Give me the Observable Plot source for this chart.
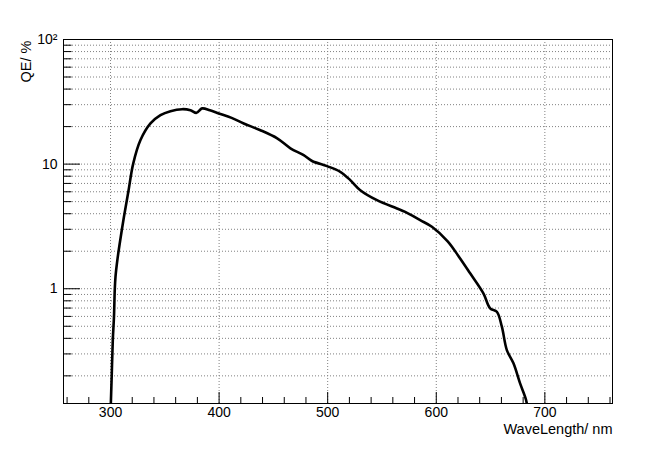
<!DOCTYPE html>
<html>
<head>
<meta charset="utf-8">
<script src="https://cdn.jsdelivr.net/npm/d3@7"></script>
<script src="https://cdn.jsdelivr.net/npm/@observablehq/plot@0.6"></script>
<style>
  html, body { margin: 0; padding: 0; background: #fff; }
  #chart { width: 655px; height: 457px; }
</style>
</head>
<body>
<div id="chart"></div>
<script>
// Wavelength (nm) and quantum efficiency (%)
const wavelength = [300.0, 301.1, 302.1, 303.2, 303.9, 304.6, 306.5, 309.4, 312.3, 316.4, 320.9, 327.6, 336.8, 346.0, 355.2, 366.0, 373.6, 379.2, 384.4, 391.5, 399.7, 411.5, 422.7, 437.5, 453.5, 465.7, 477.9, 485.6, 499.4, 511.6, 520.8, 530.0, 545.4, 563.8, 571.4, 585.2, 596.0, 610.5, 621.0, 631.2, 643.4, 649.6, 655.8, 660.4, 665.0, 671.1, 677.2, 682.7, 684.5];
const qe = [0.1, 0.2, 0.388, 0.6, 0.977, 1.25, 1.75, 2.6, 3.75, 6.0, 10.1, 15.6, 21.2, 24.7, 26.6, 27.6, 27.1, 25.8, 28.0, 27.0, 25.5, 23.5, 21.2, 18.8, 16.1, 13.4, 11.8, 10.6, 9.64, 8.67, 7.44, 6.18, 5.14, 4.41, 4.14, 3.55, 3.14, 2.40, 1.8, 1.33, 0.918, 0.697, 0.654, 0.496, 0.322, 0.252, 0.174, 0.128, 0.1];

const xDomain = [256.7, 762.3];
const yDomain = [0.12, 100];
const xMajor = [300, 400, 500, 600, 700];
const xMinor = [260, 280, 320, 340, 360, 380, 420, 440, 460, 480, 520, 540, 560, 580, 620, 640, 660, 680, 720, 740, 760];
const yMajor = [1, 10, 100];
const yMinor = [0.2, 0.3, 0.4, 0.5, 0.6, 0.7, 0.8, 0.9, 2, 3, 4, 5, 6, 7, 8, 9, 20, 30, 40, 50, 60, 70, 80, 90];
const yTickLabels = ["1", "10", "10²"];
const xTitle = "WaveLength/ nm";
const yTitle = "QE/ %";

const data = wavelength.map((w, i) => ({w, q: qe[i]}));

const W = 655, H = 457;
const mL = 63, mR = 43, mT = 39, mB = 54;
const fw = W - mL - mR, fh = H - mT - mB;
const font = "'Liberation Sans', Arial, Helvetica, sans-serif";

const chart = Plot.plot({
  width: W,
  height: H,
  marginLeft: mL,
  marginRight: mR,
  marginTop: mT,
  marginBottom: mB,
  style: {fontFamily: font, background: "#fff", color: "#000"},
  x: {domain: xDomain, axis: null},
  y: {type: "log", domain: yDomain, axis: null},
  marks: [
    // grid
    Plot.ruleY(yMinor.concat(yMajor), {stroke: "#808080", strokeWidth: 1, strokeDasharray: "1,2"}),
    Plot.ruleX(xMajor, {stroke: "#808080", strokeWidth: 1, strokeDasharray: "1,2"}),
    // inward ticks
    Plot.ruleY(yMajor, {stroke: "#000", insetRight: fw - 17}),
    Plot.ruleY(yMinor, {stroke: "#000", insetRight: fw - 8.5}),
    Plot.ruleX(xMajor, {stroke: "#000", insetTop: fh - 11}),
    Plot.ruleX(xMinor, {stroke: "#000", insetTop: fh - 6}),
    Plot.frame({stroke: "#000", strokeWidth: 1}),
    // curve
    Plot.line(data, {x: "w", y: "q", stroke: "#000", strokeWidth: 2.6, strokeLinejoin: "round", curve: "catmull-rom", clip: true}),
    // tick labels
    Plot.text(yMajor, {y: d => d, text: (d, i) => yTickLabels[i], frameAnchor: "left", textAnchor: "end", dx: -6, fontSize: 14, fill: "#000"}),
    Plot.text(xMajor, {x: d => d, text: d => String(d), frameAnchor: "bottom", lineAnchor: "top", dy: 4, fontSize: 14, fill: "#000"}),
    // axis titles
    Plot.text([xTitle], {text: d => d, frameAnchor: "bottom-right", textAnchor: "end", lineAnchor: "top", dy: 20, fontSize: 14.5, fill: "#000"}),
    Plot.text([yTitle], {text: d => d, frameAnchor: "top-left", textAnchor: "end", lineAnchor: "bottom", rotate: -90, dx: -33, dy: 1, fontSize: 14.5, fill: "#000"})
  ]
});
document.getElementById("chart").appendChild(chart);
</script>
</body>
</html>
